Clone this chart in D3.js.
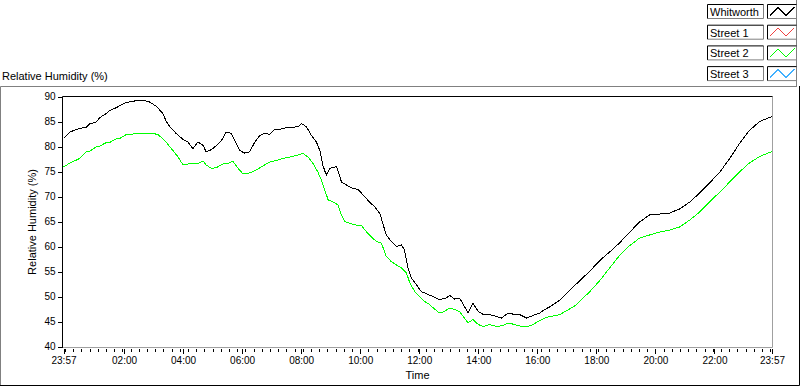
<!DOCTYPE html>
<html>
<head>
<meta charset="utf-8">
<script src="https://cdn.jsdelivr.net/npm/d3@7"></script>
<style>
  body { margin: 0; background: #fff; }
  svg { display: block; font-family: "Liberation Sans", Arial, sans-serif; font-size: 11px; }
</style>
</head>
<body>
<svg id="chart" width="800" height="386"></svg>
<script>
// minutes after the 23:57 start, and the relative humidity read at that moment
const whitworthMinutes = [0,13,26,33,47,53,67,74,87,94,108,114,128,134,155,168,175,189,202,209,216,229,243,253,263,273,284,290,301,311,321,331,341,348,358,368,378,389,399,409,419,429,439,453,466,477,484,494,504,514,521,527,534,541,555,565,575,588,599,609,622,633,643,649,656,666,677,687,693,700,707,717,727,741,751,764,778,785,795,805,815,822,832,843,853,866,880,890,904,917,927,941,954,968,978,988,1009,1039,1069,1090,1110,1130,1151,1171,1191,1212,1232,1252,1273,1293,1313,1334,1354,1374,1394,1415,1440];
const whitworthRH = [81.6,82.9,83.4,83.6,83.9,84.5,84.9,85.8,86.6,87.2,87.8,88.2,88.8,88.9,89.3,89.1,88.9,88.0,86.6,85.0,84.0,82.6,81.4,80.9,79.6,80.9,80.2,78.9,79.4,80.2,81.2,82.9,82.6,81.2,79.2,78.7,78.9,80.9,82.2,82.7,82.4,83.4,83.4,83.8,83.8,84.0,84.6,83.9,82.2,80.9,79.2,76.3,74.3,75.6,76.0,72.9,72.3,71.6,71.4,70.3,68.9,67.9,66.6,64.6,62.3,61.0,60.0,60.3,59.3,55.7,53.7,52.4,51.0,50.4,50.0,49.4,49.7,50.2,49.5,49.7,48.0,46.7,48.7,47.0,46.4,46.4,46.0,45.7,46.7,46.4,46.4,45.7,46.2,46.7,47.4,47.9,49.3,52.2,55.0,57.2,58.9,60.7,62.9,64.9,66.3,66.5,66.7,67.5,68.9,70.7,72.7,74.9,77.6,80.6,83.2,85.0,86.0];

const street2Minutes = [0,13,33,47,53,67,74,87,94,108,114,128,134,155,175,182,192,206,219,233,243,253,263,273,284,290,301,311,324,334,344,355,365,378,392,405,419,433,446,460,473,487,497,507,517,524,531,538,548,558,565,572,582,595,605,616,626,636,646,656,666,677,687,697,704,714,724,734,744,754,764,774,785,795,805,815,822,832,843,853,866,880,893,904,917,931,944,954,968,981,1009,1039,1069,1090,1110,1130,1151,1171,1191,1212,1232,1252,1273,1293,1313,1334,1354,1374,1394,1415,1440];
const street2RH = [75.9,76.7,77.6,79.0,79.0,80.0,80.1,80.8,80.8,81.6,81.6,82.4,82.4,82.7,82.7,82.6,82.4,81.2,79.6,77.9,76.3,76.5,76.7,76.6,77.1,76.3,75.6,75.8,76.5,76.6,77.1,75.6,74.5,74.7,75.3,76.1,76.9,77.2,77.6,77.9,78.2,78.6,77.9,76.6,74.9,73.3,71.3,69.3,68.9,68.3,66.3,65.0,64.6,64.3,64.3,62.9,61.9,61.0,60.7,58.0,57.0,56.3,55.7,54.7,52.7,51.0,50.0,49.0,48.4,47.5,46.7,47.0,47.7,47.4,47.0,45.7,44.7,45.4,44.4,44.0,44.4,44.0,44.2,44.7,44.4,44.0,44.0,44.4,45.2,45.8,46.4,48.1,50.9,53.2,55.7,58.2,60.2,61.7,62.3,62.9,63.3,63.9,65.3,66.9,68.9,70.9,72.9,74.9,76.7,78.0,79.0];

const legendNames = ["Whitworth", "Street 1", "Street 2", "Street 3"];
const legendColors = ["#000000", "#f04040", "#00ff00", "#40b0ff"];
const yTicks = [40, 45, 50, 55, 60, 65, 70, 75, 80, 85, 90];
const majorHours = [2, 4, 6, 8, 10, 12, 14, 16, 18, 20, 22];

const start = new Date(2000, 0, 1, 23, 57);
const end = new Date(2000, 0, 2, 23, 57);
const toDate = m => new Date(start.getTime() + m * 60000);

const plotLeft = 62.5, plotRight = 772.5, plotTop = 96.5, plotBottom = 347.5;

const svg = d3.select("#chart");

const x = d3.scaleTime().domain([start, end]).range([63.5, 772]);
const y = d3.scaleLinear().domain([40, 90]).range([346.5, 96.5]);

// outer panel frame
svg.append("path").attr("d", "M0.5,385 V86.5 H797").attr("fill", "none").attr("stroke", "#808080");
svg.append("path").attr("d", "M796.5,0 V86").attr("fill", "none").attr("stroke", "#808080");
svg.append("path").attr("d", "M0,385.5 H799.5 V86").attr("fill", "none").attr("stroke", "#000");

svg.append("text").attr("x", 2).attr("y", 80).text("Relative Humidity (%)");

// plot frame: dark top/left, grey bottom/right
svg.append("path").attr("d", `M${plotLeft},${plotBottom} H${plotRight} V${plotTop}`).attr("fill", "none").attr("stroke", "#a0a0a0");
svg.append("path").attr("d", `M${plotLeft},${plotBottom} V${plotTop} H${plotRight}`).attr("fill", "none").attr("stroke", "#000");

// y axis
const yAxis = svg.append("g")
    .attr("transform", `translate(${plotLeft},0)`)
    .call(d3.axisLeft(y).tickValues(yTicks).tickSize(5).tickPadding(2));
yAxis.select(".domain").remove();
yAxis.selectAll("text").attr("font-family", null).attr("font-size", null).attr("fill", "#000");
yAxis.selectAll("line").attr("stroke", "#000").attr("shape-rendering", "crispEdges");

// x axis: minor ticks every 1000 s from midnight, major every 2 h
const midnight = new Date(2000, 0, 2, 0, 0);
const minorTicks = [];
for (let s = -1000; s < 86400; s += 1000) {
    const t = new Date(midnight.getTime() + s * 1000);
    if (t >= start && t <= end) minorTicks.push(t);
}
const majorTicks = [start, ...majorHours.map(h => new Date(2000, 0, 2, h, 0)), end];

const xMinor = svg.append("g")
    .attr("transform", "translate(0,349)")
    .call(d3.axisBottom(x).tickValues(minorTicks).tickSize(3).tickFormat(""));
xMinor.select(".domain").remove();
xMinor.selectAll("line").attr("stroke", "#000").attr("shape-rendering", "crispEdges");

const xAxis = svg.append("g")
    .attr("transform", "translate(0,349)")
    .call(d3.axisBottom(x).tickValues(majorTicks).tickSize(5).tickPadding(3).tickFormat(d3.timeFormat("%H:%M")));
xAxis.select(".domain").remove();
xAxis.selectAll("text").attr("font-family", null).attr("font-size", null).attr("fill", "#000");
xAxis.selectAll("line").attr("stroke", "#000").attr("shape-rendering", "crispEdges");

// axis titles
svg.append("text")
    .attr("transform", `translate(36,${(plotTop + plotBottom) / 2}) rotate(-90)`)
    .attr("text-anchor", "middle")
    .text("Relative Humidity (%)");
svg.append("text")
    .attr("x", (plotLeft + plotRight) / 2)
    .attr("y", 379)
    .attr("text-anchor", "middle")
    .text("Time");

// series
const line = d3.line()
    .x(d => x(toDate(d[0])))
    .y(d => y(d[1]));

const series = [
    { minutes: street2Minutes, values: street2RH, color: legendColors[2] },
    { minutes: whitworthMinutes, values: whitworthRH, color: legendColors[0] }
];

series.forEach(s => {
    svg.append("path")
        .datum(s.minutes.map((m, i) => [m, s.values[i]]))
        .attr("fill", "none")
        .attr("stroke", s.color)
        .attr("stroke-width", 1)
        .attr("shape-rendering", "crispEdges")
        .attr("d", line);
});

// legend
const legend = svg.append("g");
legendNames.forEach((name, i) => {
    const y0 = 4.5 + i * 20.7;
    const row = legend.append("g").attr("transform", `translate(0,${y0})`);
    // name box
    row.append("path").attr("d", "M707.5,14 H763.5 V0").attr("fill", "none").attr("stroke", "#808080");
    row.append("path").attr("d", "M707.5,14 V0 H763.5").attr("fill", "none").attr("stroke", "#000");
    row.append("text").attr("x", 710).attr("y", 11.5).text(name);
    // swatch box
    row.append("path").attr("d", "M767.5,14 H796.5 V0").attr("fill", "none").attr("stroke", "#808080");
    row.append("path").attr("d", "M767.5,14 V0 H796.5").attr("fill", "none").attr("stroke", "#000");
    row.append("path")
        .attr("d", "M770,11 L778,3 L786,11 L794.5,2.5")
        .attr("fill", "none")
        .attr("stroke", legendColors[i])
        .attr("shape-rendering", "crispEdges");
});
</script>
</body>
</html>
